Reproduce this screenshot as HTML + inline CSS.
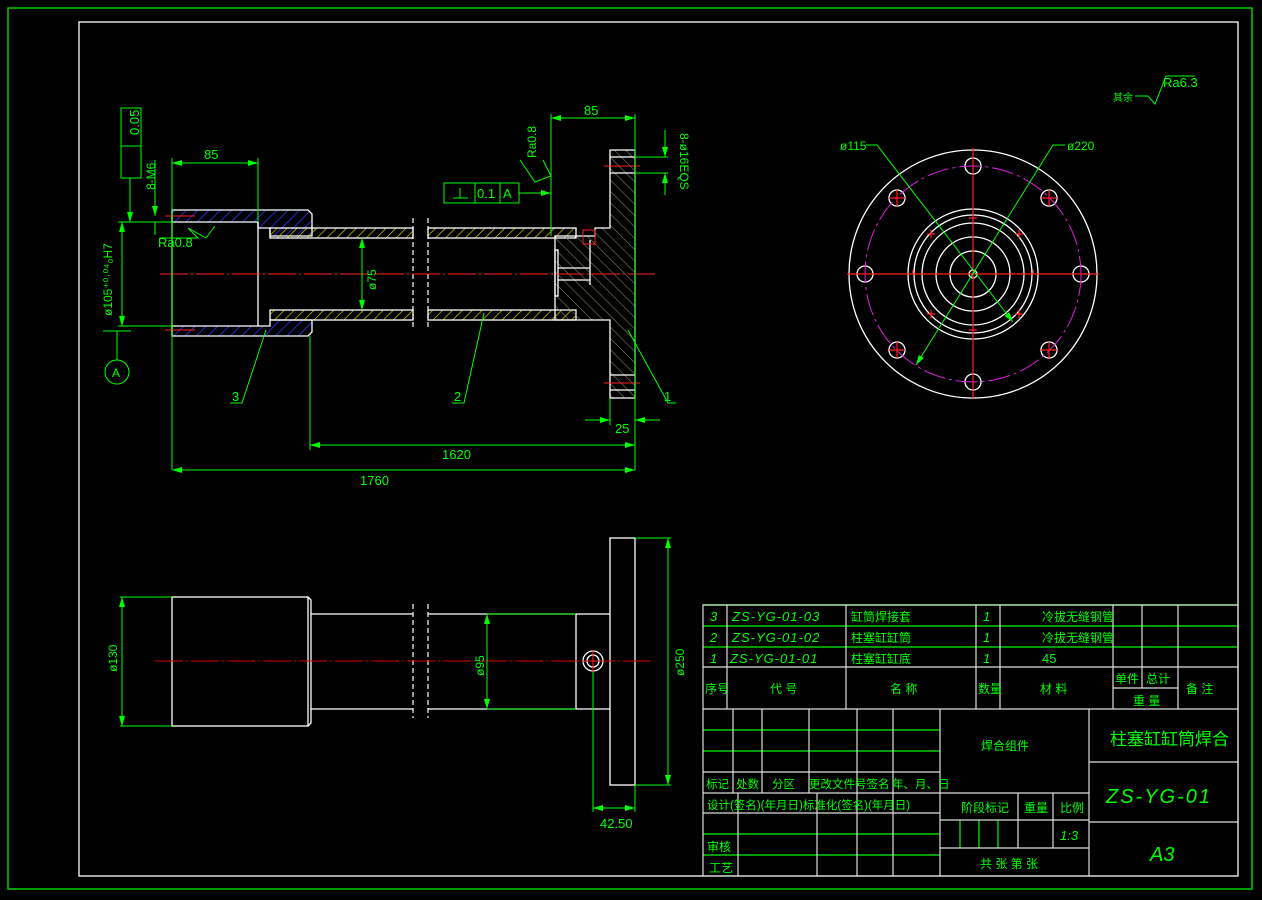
<!DOCTYPE html>
<html><head><meta charset="utf-8"><style>
html,body{margin:0;padding:0;background:#000;width:1262px;height:900px;overflow:hidden}
svg{display:block}
text{font-family:"Liberation Sans","Noto Sans CJK SC",sans-serif;fill:#00ff00}
</style></head><body>
<svg width="1262" height="900" viewBox="0 0 1262 900" xmlns="http://www.w3.org/2000/svg">
<defs>
<pattern id="hb" width="8" height="8" patternUnits="userSpaceOnUse" patternTransform="rotate(45)"><line x1="0" y1="0" x2="0" y2="8" stroke="#3030ff" stroke-width="1.6"/></pattern>
<pattern id="hy" width="7" height="7" patternUnits="userSpaceOnUse" patternTransform="rotate(45)"><line x1="0" y1="0" x2="0" y2="7" stroke="#e0e000" stroke-width="1.3"/></pattern>
<pattern id="hg" width="8" height="8" patternUnits="userSpaceOnUse" patternTransform="rotate(-45)"><line x1="0" y1="0" x2="0" y2="8" stroke="#888866" stroke-width="1.1"/></pattern>
<marker id="a" viewBox="0 0 10 6" refX="10" refY="3" markerWidth="10" markerHeight="6" orient="auto-start-reverse" markerUnits="userSpaceOnUse"><path d="M0,0L10,3L0,6z" fill="#00ff00"/></marker>
</defs>
<rect x="8" y="8" width="1244" height="881" fill="none" stroke="#00cc00" stroke-width="1.5"/>
<rect x="79" y="22" width="1159" height="854" fill="none" stroke="#fff" stroke-width="1.3"/>

<g stroke="#fff" stroke-width="1.3" fill="none">
<path d="M172,210 H308 L312,214 V236 H270 V228 H258 V222 H172 Z" fill="url(#hb)"/>
<path d="M172,336 H308 L312,332 V320 H270 V326 H258 V326 H172 Z" fill="url(#hb)"/>
<line x1="172" y1="210" x2="172" y2="336"/>
<line x1="258" y1="222" x2="258" y2="326"/>
<rect x="270" y="228" width="143" height="10" fill="url(#hy)"/>
<rect x="270" y="310" width="143" height="10" fill="url(#hy)"/>
<rect x="428" y="228" width="148" height="10" fill="url(#hy)"/>
<rect x="428" y="310" width="148" height="10" fill="url(#hy)"/>
<path d="M555,236 H595 V228 H610 V150 H635 V398 H610 V320 H555 Z" fill="url(#hg)"/>
<line x1="610" y1="157" x2="635" y2="157"/><line x1="610" y1="173" x2="635" y2="173"/>
<line x1="610" y1="375" x2="635" y2="375"/><line x1="610" y1="390" x2="635" y2="390"/>
<rect x="555" y="250" width="3" height="46"/>
<path d="M558,268 H590 M558,280 H590 M590,240 V285"/>
</g>
<g stroke="#fff" stroke-width="1.2" stroke-dasharray="5,3"><line x1="413" y1="218" x2="413" y2="330"/><line x1="428" y1="218" x2="428" y2="330"/></g>
<g stroke="#ff2020" stroke-width="1"><line x1="160" y1="274" x2="655" y2="274" stroke-dasharray="28,3,2,3"/>
<line x1="165" y1="216" x2="195" y2="216"/><line x1="165" y1="330" x2="195" y2="330"/>
<line x1="604" y1="166" x2="640" y2="166"/><line x1="604" y1="383" x2="640" y2="383"/>
<rect x="583" y="230" width="12" height="14" fill="none"/></g>

<g stroke="#00ff00" stroke-width="1" fill="none">
<line x1="172" y1="163" x2="258" y2="163" marker-start="url(#a)" marker-end="url(#a)"/>
<line x1="172" y1="158" x2="172" y2="470"/><line x1="258" y1="158" x2="258" y2="222"/>
<line x1="551" y1="118" x2="635" y2="118" marker-start="url(#a)" marker-end="url(#a)"/>
<line x1="551" y1="114" x2="551" y2="236"/><line x1="635" y1="114" x2="635" y2="470"/>
<line x1="310" y1="445" x2="635" y2="445" marker-start="url(#a)" marker-end="url(#a)"/>
<line x1="310" y1="336" x2="310" y2="450"/>
<line x1="172" y1="470" x2="635" y2="470" marker-start="url(#a)" marker-end="url(#a)"/>
<line x1="610" y1="398" x2="610" y2="425"/>
<line x1="585" y1="420" x2="610" y2="420" marker-end="url(#a)"/><line x1="660" y1="420" x2="635" y2="420" marker-end="url(#a)"/>
<line x1="122" y1="222" x2="122" y2="326" marker-start="url(#a)" marker-end="url(#a)"/>
<line x1="118" y1="222" x2="172" y2="222"/><line x1="118" y1="326" x2="172" y2="326"/>
<line x1="362" y1="238" x2="362" y2="310" marker-start="url(#a)" marker-end="url(#a)"/>
<line x1="635" y1="157" x2="668" y2="157"/><line x1="635" y1="173" x2="668" y2="173"/>
<line x1="665" y1="130" x2="665" y2="157" marker-end="url(#a)"/><line x1="665" y1="195" x2="665" y2="173" marker-end="url(#a)"/>
<rect x="121" y="108" width="20" height="70"/><line x1="121" y1="146" x2="141" y2="146"/>
<line x1="130" y1="178" x2="130" y2="222" marker-end="url(#a)"/>
<line x1="155" y1="160" x2="155" y2="216" marker-end="url(#a)"/><line x1="155" y1="235" x2="155" y2="222"/>
<path d="M160,238 H198 L188,228 L206,238 L215,226"/>
<rect x="444" y="183" width="75" height="20"/><line x1="475" y1="183" x2="475" y2="203"/><line x1="500" y1="183" x2="500" y2="203"/>
<path d="M453,198 H468 M460,188 V198"/>
<line x1="519" y1="193" x2="551" y2="193" marker-end="url(#a)"/>
<path d="M520,160 L535,182 L551,176 L543,160"/>
<line x1="103" y1="331" x2="131" y2="331"/><line x1="117" y1="331" x2="117" y2="360"/>
<circle cx="117" cy="372" r="12"/>
<path d="M266,330 L242,403 L230,403"/>
<path d="M484,313 L464,403 L452,403"/>
<path d="M628,330 L668,403 L676,403"/>
</g>
<g font-size="13">
<text x="204" y="159">85</text><text x="584" y="115">85</text>
<text x="442" y="459">1620</text><text x="360" y="485">1760</text>
<text x="615" y="433">25</text>
<text x="232" y="401">3</text><text x="454" y="401">2</text><text x="664" y="401">1</text>
<text x="112" y="377" font-size="12">A</text>
<text x="158" y="247">Ra0.8</text>
<text x="477" y="198">0.1</text><text x="503" y="198">A</text>
<text transform="translate(376,290) rotate(-90)" font-size="12">ø75</text>
<text transform="translate(112,316) rotate(-90)" font-size="12">ø105⁺⁰·⁰⁴₀H7</text>
<text transform="translate(139,135) rotate(-90)" font-size="13">0.05</text>
<text transform="translate(155,190) rotate(-90)" font-size="12">8-M6</text>
<text transform="translate(536,158) rotate(-90)" font-size="12">Ra0.8</text>
<text transform="translate(680,133) rotate(90)" font-size="12">8-ø16EQS</text>
<text x="1113" y="101" font-size="10">其余</text><text x="1163" y="87" font-size="13">Ra6.3</text>
</g>
<path d="M1135,96 H1148 L1155,104 L1166,76 H1195" stroke="#00ff00" fill="none"/>

<g stroke="#fff" stroke-width="1.3" fill="none">
<circle cx="973" cy="274" r="124"/>
<circle cx="973" cy="274" r="65"/><circle cx="973" cy="274" r="59"/><circle cx="973" cy="274" r="51"/>
<circle cx="973" cy="274" r="37"/><circle cx="973" cy="274" r="23"/><circle cx="973" cy="274" r="4"/>
<circle cx="973" cy="166" r="8"/><circle cx="1049" cy="198" r="8"/><circle cx="1081" cy="274" r="8"/><circle cx="1049" cy="350" r="8"/>
<circle cx="973" cy="382" r="8"/><circle cx="897" cy="350" r="8"/><circle cx="865" cy="274" r="8"/><circle cx="897" cy="198" r="8"/>
</g>
<circle cx="973" cy="274" r="108" stroke="#e020e0" fill="none" stroke-dasharray="22,4,3,4"/>
<g stroke="#ff2020" stroke-width="1.2"><line x1="847" y1="274" x2="1099" y2="274"/><line x1="973" y1="148" x2="973" y2="398"/>
<path d="M889,198h16M897,190v16M1041,198h16M1049,190v16M889,350h16M897,342v16M1041,350h16M1049,342v16M927,234h8M931,230v8M1015,234h8M1019,230v8M927,314h8M931,310v8M1015,314h8M1019,310v8M969,218h8M969,330h8M913,274v-4M1033,274v-4"/></g>
<g stroke="#00ff00" fill="none"><path d="M866,145 H877 L1013,322" marker-end="url(#a)"/><path d="M1065,145 H1053 L916,365" marker-end="url(#a)"/></g>
<text x="840" y="150" font-size="12">ø115</text><text x="1067" y="150" font-size="12">ø220</text>

<g stroke="#fff" stroke-width="1.3" fill="none">
<rect x="172" y="597" width="136" height="129"/>
<path d="M308,597 L311,600 V723 L308,726"/>
<line x1="311" y1="614" x2="413" y2="614"/><line x1="311" y1="709" x2="413" y2="709"/>
<line x1="428" y1="614" x2="610" y2="614"/><line x1="428" y1="709" x2="610" y2="709"/>
<line x1="576" y1="614" x2="576" y2="709"/>
<rect x="610" y="538" width="25" height="247"/>
<circle cx="593" cy="661" r="10"/><circle cx="593" cy="661" r="6"/>
</g>
<g stroke="#fff" stroke-width="1.2" stroke-dasharray="5,3"><line x1="413" y1="604" x2="413" y2="718"/><line x1="428" y1="604" x2="428" y2="718"/></g>
<line x1="155" y1="661" x2="652" y2="661" stroke="#dd0000" stroke-dasharray="28,3,2,3"/>
<g stroke="#ff2020"><line x1="583" y1="661" x2="603" y2="661"/><line x1="593" y1="650" x2="593" y2="672"/></g>
<g stroke="#00ff00" fill="none">
<line x1="120" y1="597" x2="172" y2="597"/><line x1="120" y1="726" x2="172" y2="726"/>
<line x1="122" y1="597" x2="122" y2="726" marker-start="url(#a)" marker-end="url(#a)"/>
<path d="M487,614 H576 M487,709 H576"/>
<line x1="487" y1="614" x2="487" y2="709" marker-start="url(#a)" marker-end="url(#a)"/>
<path d="M635,538 H671 M635,785 H671"/>
<line x1="668" y1="538" x2="668" y2="785" marker-start="url(#a)" marker-end="url(#a)"/>
<line x1="593" y1="672" x2="593" y2="812"/><line x1="635" y1="785" x2="635" y2="812"/>
<line x1="593" y1="808" x2="635" y2="808" marker-start="url(#a)" marker-end="url(#a)"/>
</g>
<text transform="translate(117,672) rotate(-90)" font-size="12">ø130</text>
<text transform="translate(484,676) rotate(-90)" font-size="12">ø95</text>
<text transform="translate(684,676) rotate(-90)" font-size="12">ø250</text>
<text x="600" y="828" font-size="13">42.50</text>

<g stroke="#00cc00" stroke-width="1.5"><line x1="703" y1="605" x2="1238" y2="605"/><line x1="703" y1="626" x2="1238" y2="626"/><line x1="703" y1="647" x2="1238" y2="647"/>
<line x1="703" y1="730" x2="940" y2="730"/><line x1="703" y1="751" x2="940" y2="751"/><line x1="703" y1="834" x2="940" y2="834"/><line x1="703" y1="855" x2="940" y2="855"/>
<line x1="960" y1="820" x2="960" y2="848"/><line x1="979" y1="820" x2="979" y2="848"/><line x1="998" y1="820" x2="998" y2="848"/></g>
<g stroke="#ddd" stroke-width="1.2" fill="none">
<rect x="703" y="605" width="535" height="271"/>
<line x1="703" y1="667" x2="1238" y2="667"/><line x1="703" y1="709" x2="1238" y2="709"/>
<path d="M727,605V709M846,605V709M976,605V709M1000,605V709M1113,605V709M1142,605V688M1178,605V709M1113,688H1178"/>
<path d="M703,772H940M703,793H1089M703,813H940M733,709V793M762,709V793M809,709V793M857,709V876M893,709V793M940,709V876"/>
<path d="M738,793V876M817,793V876M893,793V876"/>
<path d="M1089,709V876M1089,762H1238M1089,822H1238M940,820H1089M940,848H1089M1018,793V848M1053,793V848"/>
</g>
<g font-size="13">
<text x="710" y="621" font-style="italic">3</text><text x="732" y="621" font-style="italic" letter-spacing="1">ZS-YG-01-03</text><text x="851" y="621" font-size="12">缸筒焊接套</text><text x="983" y="621" font-style="italic">1</text><text x="1042" y="621" font-size="12">冷拔无缝钢管</text>
<text x="710" y="642" font-style="italic">2</text><text x="732" y="642" font-style="italic" letter-spacing="1">ZS-YG-01-02</text><text x="851" y="642" font-size="12">柱塞缸缸筒</text><text x="983" y="642" font-style="italic">1</text><text x="1042" y="642" font-size="12">冷拔无缝钢管</text>
<text x="710" y="663" font-style="italic">1</text><text x="730" y="663" font-style="italic" letter-spacing="1">ZS-YG-01-01</text><text x="851" y="663" font-size="12">柱塞缸缸底</text><text x="983" y="663" font-style="italic">1</text><text x="1042" y="663">45</text>
<text x="705" y="693" font-size="12">序号</text><text x="770" y="693" font-size="12">代  号</text><text x="890" y="693" font-size="12">名  称</text><text x="978" y="693" font-size="12">数量</text><text x="1040" y="693" font-size="12">材  料</text>
<text x="1115" y="683" font-size="12">单件</text><text x="1146" y="683" font-size="12">总计</text><text x="1133" y="705" font-size="12">重  量</text><text x="1186" y="693" font-size="12">备  注</text>
<text x="981" y="750" font-size="12">焊合组件</text>
<text x="1110" y="745" font-size="17">柱塞缸缸筒焊合</text>
<text x="1106" y="803" font-size="20" font-style="italic" letter-spacing="2">ZS-YG-01</text>
<text x="1150" y="861" font-size="20" font-style="italic">A3</text>
<text x="706" y="788" font-size="11.5">标记</text><text x="736" y="788" font-size="11.5">处数</text><text x="772" y="788" font-size="11.5">分区</text><text x="809" y="788" font-size="11.5">更改文件号签名</text><text x="892" y="788" font-size="11.5">年、月、日</text>
<text x="707" y="809" font-size="11.5">设计(签名)(年月日)标准化(签名)(年月日)</text>
<text x="961" y="812" font-size="12">阶段标记</text><text x="1024" y="812" font-size="12">重量</text><text x="1060" y="812" font-size="12">比例</text>
<text x="1060" y="840" font-style="italic">1:3</text>
<text x="980" y="868" font-size="12">共  张  第  张</text>
<text x="707" y="851" font-size="12">审核</text><text x="709" y="872" font-size="12">工艺</text>
</g>
</svg>
</body></html>
